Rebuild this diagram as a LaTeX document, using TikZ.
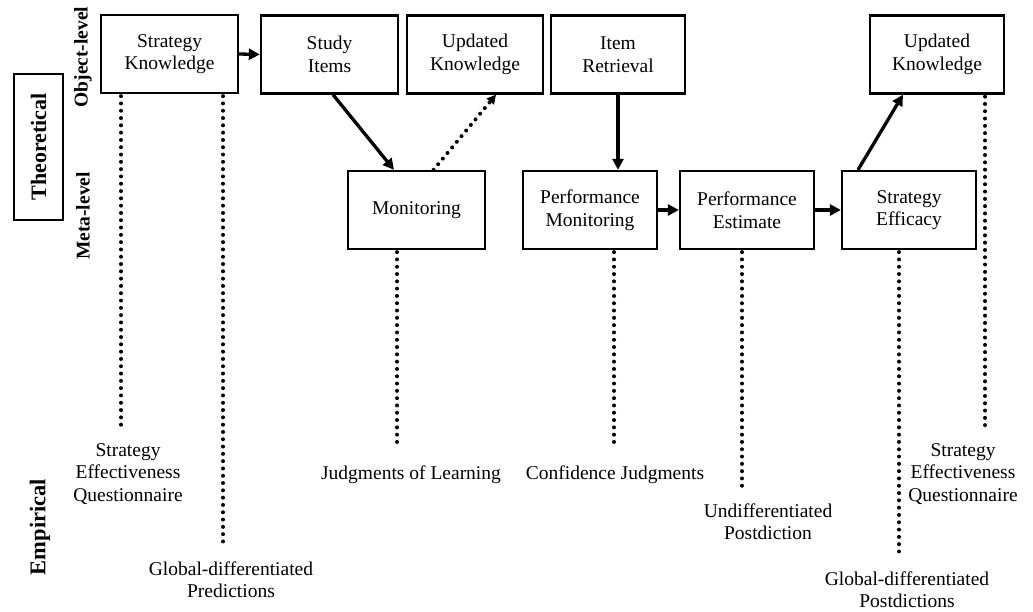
\documentclass[tikz,border=0pt]{standalone}
\usepackage{fontspec}
\setmainfont{Liberation Serif}
\usetikzlibrary{arrows.meta,calc}
\begin{document}
\begin{tikzpicture}[x=1pt,y=-1pt,
  box/.style={draw,line width=2.3pt,minimum height=78pt,align=center,inner sep=0pt,font=\fontsize{19.5}{22.5}\selectfont},
  lbl/.style={align=center,inner sep=0pt,font=\fontsize{19.5}{22.5}\selectfont},
  side/.style={rotate=90,inner sep=0pt,font=\fontsize{19.5}{22}\selectfont\bfseries},
  arr/.style={line width=3.3pt,-{Triangle[length=11pt,width=11pt]}},
  dotarr/.style={line width=4pt,dash pattern=on 0pt off 7.3pt,line cap=round,-{Triangle[length=9pt,width=9pt]}},
  dotline/.style={line width=4pt,dash pattern=on 0pt off 7.3pt,line cap=round}]
\useasboundingbox (0,0) rectangle (1033,612);
% side labels
\node[draw,line width=1.5pt,rotate=90,minimum width=146pt,minimum height=49pt,inner sep=0pt,font=\fontsize{22}{24}\selectfont\bfseries] (theo) at (38.5,147) {Theoretical};
\node[side] (obj) at (83,57) {Object-level};
\node[side] (meta) at (83,216) {Meta-level};
\node[side,font=\fontsize{22.5}{24}\selectfont\bfseries] (emp) at (40,527) {Empirical};
% boxes
\node[box,minimum width=137pt] (SK) at (169.5,54) {Strategy\\Knowledge};
\node[box,minimum width=137pt] (SI) at (329.5,54.5) {Study\\Items};
\node[box,minimum width=136pt] (UK1) at (475,54.5) {Updated\\Knowledge};
\node[box,minimum width=134pt] (IR) at (618,54.5) {Item\\Retrieval};
\node[box,minimum width=134pt] (UK2) at (937,54.5) {Updated\\Knowledge};
\node[box,minimum width=137pt] (Mon) at (416.5,210) {Monitoring};
\node[box,minimum width=134pt] (PM) at (590,210) {Performance\\Monitoring};
\node[box,minimum width=134pt] (PE) at (747,210) {Performance\\Estimate};
\node[box,minimum width=134pt] (SE) at (909,210) {Strategy\\Efficacy};
% arrows
\draw[arr] (SK.east) -- (SI.west);
\draw[arr] ($(SI.south)+(3.5,0)$) -- ($(Mon.north)+(-22.5,0)$);
\draw[dotarr] ($(Mon.north)+(17,0)$) -- ($(UK1.south)+(21,0)$);
\draw[arr] (IR.south) -- (IR.south |- PM.north);
\draw[arr] (PM.east) -- (PE.west);
\draw[arr] (PE.east) -- (SE.west);
\draw[arr] ($(SE.north)+(-51,0)$) -- ($(UK2.south)+(-34,0)$);
% empirical labels
\node[lbl] (SEQ1) at (128,474) {Strategy\\Effectiveness\\Questionnaire};
\node[lbl] (GDP) at (231,579.5) {Global-differentiated\\Predictions};
\node[lbl] (JOL) at (411,475) {Judgments of Learning};
\node[lbl] (CJ) at (615,475) {Confidence Judgments};
\node[lbl] (UP) at (768,521.5) {Undifferentiated\\Postdiction};
\node[lbl] (GDPo) at (907,589.5) {Global-differentiated\\Postdictions};
\node[lbl] (SEQ2) at (963,474) {Strategy\\Effectiveness\\Questionnaire};
% dotted connectors
\coordinate (e1) at (121,430);
\coordinate (e2) at (223,547);
\coordinate (e3) at (397,447);
\coordinate (e4) at (614,447);
\coordinate (e5) at (742,491);
\coordinate (e6) at (899,557);
\coordinate (e7) at (985,430);
\draw[dotline] ($(SK.south)+(-48.5,2)$) -- (e1);
\draw[dotline] ($(SK.south)+(53.5,2)$) -- (e2);
\draw[dotline] ($(Mon.south)+(-19.5,2)$) -- (e3);
\draw[dotline] ($(PM.south)+(24,2)$) -- (e4);
\draw[dotline] ($(PE.south)+(-5,2)$) -- (e5);
\draw[dotline] ($(SE.south)+(-10,2)$) -- (e6);
\draw[dotline] ($(UK2.south)+(48,2)$) -- (e7);
\end{tikzpicture}
\end{document}
